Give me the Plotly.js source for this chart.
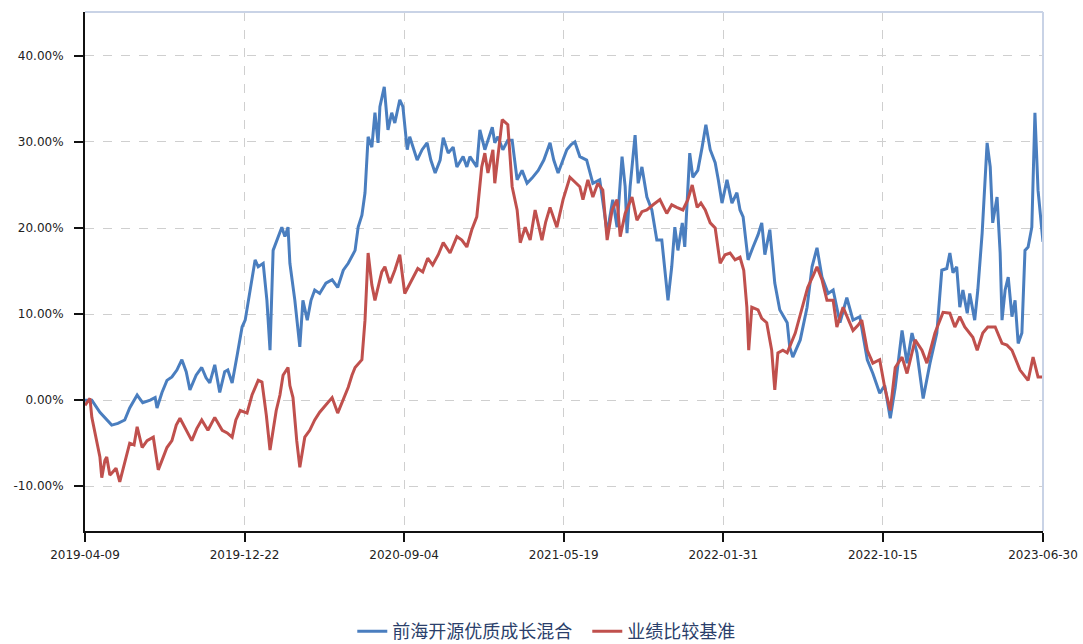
<!DOCTYPE html>
<html>
<head>
<meta charset="utf-8">
<script src="https://cdn.plot.ly/plotly-3.0.1.min.js"></script>
<style>
  html, body { margin: 0; padding: 0; background: #fff; }
  #chart { width: 1083px; height: 644px; }
</style>
</head>
<body>
<div id="chart"></div>
<script>
// ---- data (values in %, x as days since start date) ----
const startDate = '2019-04-09';
const seriesNames = ['前海开源优质成长混合', '业绩比较基准'];
const tickDates = ['2019-04-09', '2019-12-22', '2020-09-04', '2021-05-19', '2022-01-31', '2022-10-15', '2023-06-30'];
const yTickVals = [-10, 0, 10, 20, 30, 40];
const yTickText = ['-10.00%', '0.00%', '10.00%', '20.00%', '30.00%', '40.00%'];

const fundDays = [0,11,24,43,53,64,72,84,93,105,113,116,124,132,140,148,156,163,169,179,188,195,201,209,217,225,230,237,245,253,258,266,274,279,287,293,298,303,309,317,322,327,330,338,346,351,358,364,370,378,388,398,407,416,424,435,440,446,451,456,462,467,472,475,482,488,494,499,507,512,519,523,535,543,551,557,564,572,577,585,593,599,609,615,620,631,636,644,656,660,665,673,681,688,696,704,712,720,730,739,749,755,762,770,776,783,789,797,808,818,829,836,841,850,857,865,870,873,878,886,891,897,905,913,921,929,934,939,945,950,955,962,966,974,979,987,994,1000,1007,1015,1020,1026,1034,1042,1050,1055,1060,1068,1076,1084,1090,1095,1103,1111,1119,1131,1135,1140,1152,1163,1171,1179,1187,1197,1205,1216,1227,1237,1248,1260,1269,1280,1288,1297,1305,1316,1324,1332,1340,1350,1361,1372,1380,1388,1393,1398,1404,1409,1414,1421,1425,1433,1438,1445,1453,1458,1462,1469,1474,1477,1482,1487,1493,1498,1503,1509,1514,1519,1525,1530,1535,1543];
const fundValues = [0.0,0.0,-1.4,-2.9,-2.7,-2.3,-0.9,0.6,-0.3,0.0,0.3,-0.9,0.9,2.3,2.7,3.5,4.7,3.3,1.2,2.9,3.8,2.6,2.0,4.1,0.9,3.3,3.5,2.0,5.2,8.5,9.3,12.8,16.3,15.5,15.9,11.6,5.8,17.4,18.6,20.1,19.0,20.1,15.9,11.6,6.2,11.6,9.3,11.6,12.8,12.4,13.6,14.0,13.1,15.1,15.9,17.4,20.1,21.5,24.1,30.6,29.4,33.4,29.9,34.1,36.4,31.4,33.4,32.2,34.9,34.1,29.1,30.6,27.9,29.1,29.9,27.9,26.4,27.9,30.5,28.7,29.4,27.1,28.3,27.1,28.3,27.1,31.4,29.1,31.7,29.9,30.6,29.1,30.2,30.2,25.6,26.7,25.2,25.8,26.7,27.9,29.9,27.9,26.4,27.9,29.1,29.7,30.0,28.3,27.9,25.2,25.6,22.1,19.4,23.3,20.1,28.3,24.8,19.4,24.8,30.8,25.2,27.1,23.6,22.1,18.6,18.6,14.8,11.6,15.5,20.1,17.4,20.6,17.8,28.7,25.9,26.7,29.4,32.0,29.1,27.6,25.6,22.9,25.6,22.9,24.1,22.1,21.3,16.3,17.8,19.2,20.6,16.9,19.8,13.6,10.5,9.0,6.2,5.0,7.0,10.8,15.5,17.7,14.3,12.4,12.8,9.0,11.9,9.3,9.7,4.7,3.1,0.8,1.7,-2.1,1.5,8.1,4.3,7.8,5.5,0.2,4.3,7.8,15.1,15.3,17.1,14.8,15.5,10.8,12.8,10.1,12.4,9.3,12.8,19.4,29.9,27.1,20.6,23.6,17.1,9.3,12.8,14.3,9.7,11.6,6.6,7.8,17.4,17.8,20.1,33.4,24.4,18.4];

const benchDays = [0,8,11,18,24,27,32,35,40,43,50,56,64,72,79,84,92,100,110,118,124,132,140,147,153,163,172,180,188,198,209,221,229,237,243,250,261,269,279,285,292,298,308,314,319,327,330,335,341,346,354,362,370,378,388,398,407,416,424,430,435,446,451,456,462,467,472,478,483,491,499,507,515,527,536,544,552,560,569,577,588,599,607,615,623,631,639,644,649,657,660,665,672,681,688,696,701,709,717,725,736,742,749,760,770,781,792,797,802,810,818,826,834,841,849,857,862,870,881,889,897,905,915,926,937,945,953,963,971,978,986,992,999,1007,1015,1023,1031,1039,1047,1055,1061,1066,1069,1074,1084,1090,1098,1106,1111,1116,1124,1131,1144,1155,1164,1173,1179,1187,1195,1205,1211,1221,1229,1237,1245,1251,1260,1269,1280,1288,1297,1305,1316,1324,1337,1348,1356,1369,1382,1393,1401,1409,1417,1430,1437,1446,1454,1466,1477,1485,1493,1506,1519,1527,1535,1543];
const benchValues = [-0.6,0.2,-2.0,-4.7,-6.6,-9.0,-7.0,-6.6,-8.7,-8.5,-7.9,-9.5,-7.3,-5.0,-5.2,-3.1,-5.5,-4.7,-4.3,-8.1,-7.0,-5.5,-4.7,-2.9,-2.1,-3.5,-4.7,-3.3,-2.3,-3.5,-2.0,-3.5,-3.8,-4.3,-2.3,-1.2,-1.5,0.6,2.3,2.1,-1.7,-5.8,-1.2,0.6,2.9,3.8,1.7,0.3,-4.7,-7.8,-4.3,-3.5,-2.3,-1.4,-0.6,0.3,-1.5,0.2,1.5,2.9,3.8,4.7,9.3,17.1,13.4,11.6,13.1,14.9,15.5,13.6,15.1,16.9,12.4,14.0,15.3,14.9,16.5,15.7,16.9,18.3,17.1,19.0,18.6,17.8,19.8,21.3,27.1,28.7,26.4,29.1,25.2,28.3,32.6,32.0,24.8,22.1,18.3,20.1,18.6,22.1,18.6,20.7,22.4,20.1,23.3,25.9,25.1,24.8,23.3,25.6,23.6,25.2,24.4,18.6,22.1,23.3,19.0,21.7,23.6,20.9,21.9,22.1,22.7,23.3,21.7,22.7,22.4,22.1,23.3,25.0,22.4,22.9,22.1,20.6,20.0,15.9,16.9,17.1,16.3,16.6,15.1,10.8,5.8,10.8,10.5,9.5,9.0,5.8,1.2,5.5,5.8,5.5,7.8,10.8,13.1,14.5,15.5,14.0,11.6,11.6,8.5,10.8,9.5,8.1,8.7,9.3,5.8,4.3,4.7,1.5,-1.2,3.8,5.0,3.1,7.0,5.8,4.3,7.8,10.2,10.1,8.5,9.7,8.5,7.3,5.8,7.8,8.5,8.5,6.6,6.4,5.8,3.5,2.3,5.0,2.7,2.7];

// ---- helpers ----
function toDates(days) {
  const base = Date.parse(startDate + 'T00:00:00Z');
  return days.map(d => new Date(base + d * 86400000).toISOString().slice(0, 10));
}

const traces = [
  { x: toDates(fundDays), y: fundValues, name: seriesNames[0], type: 'scatter', mode: 'lines',
    line: { color: '#4a7ebf', width: 3 } },
  { x: toDates(benchDays), y: benchValues, name: seriesNames[1], type: 'scatter', mode: 'lines',
    line: { color: '#c0504d', width: 3 } }
];

const tickFont = { family: 'DejaVu Sans, sans-serif', size: 12, color: '#222' };

const layout = {
  width: 1083, height: 644,
  margin: { l: 85, r: 40, t: 12, b: 113, autoexpand: false },
  paper_bgcolor: '#fff', plot_bgcolor: '#fff',
  showlegend: true,
  legend: {
    orientation: 'h', x: 0.279, xanchor: 'left', y: -0.158, yanchor: 'top',
    font: { family: 'Noto Sans CJK SC, sans-serif', size: 18, color: '#2b3f6b' },
    itemwidth: 30, traceorder: 'normal',
    entrywidth: 190, entrywidthmode: 'pixels'
  },
  xaxis: {
    type: 'date',
    range: [tickDates[0], tickDates[tickDates.length - 1]],
    tickmode: 'array', tickvals: tickDates, ticktext: tickDates,
    showline: true, linecolor: '#111', linewidth: 2,
    ticks: 'outside', ticklen: 9, tickwidth: 2, tickcolor: '#111',
    showgrid: true, gridcolor: '#cfcfcf', griddash: 'dash', gridwidth: 1,
    zeroline: false, tickfont: tickFont, ticklabelstandoff: 3
  },
  yaxis: {
    range: [-15.2, 45.1],
    tickmode: 'array', tickvals: yTickVals, ticktext: yTickText,
    showline: true, linecolor: '#111', linewidth: 2,
    ticks: 'outside', ticklen: 9, tickwidth: 2, tickcolor: '#111',
    showgrid: true, gridcolor: '#cfcfcf', griddash: 'dash', gridwidth: 1,
    zeroline: false, tickfont: tickFont, ticklabelstandoff: 8
  },
  shapes: [
    { type: 'line', xref: 'paper', yref: 'paper', x0: 0, x1: 1, y0: 1, y1: 1,
      line: { color: '#c9d3e6', width: 2 } },
    { type: 'line', xref: 'paper', yref: 'paper', x0: 1, x1: 1, y0: 0, y1: 1,
      line: { color: '#c9d3e6', width: 2 } }
  ]
};

Plotly.newPlot('chart', traces, layout, { displayModeBar: false, staticPlot: true });
</script>
</body>
</html>
